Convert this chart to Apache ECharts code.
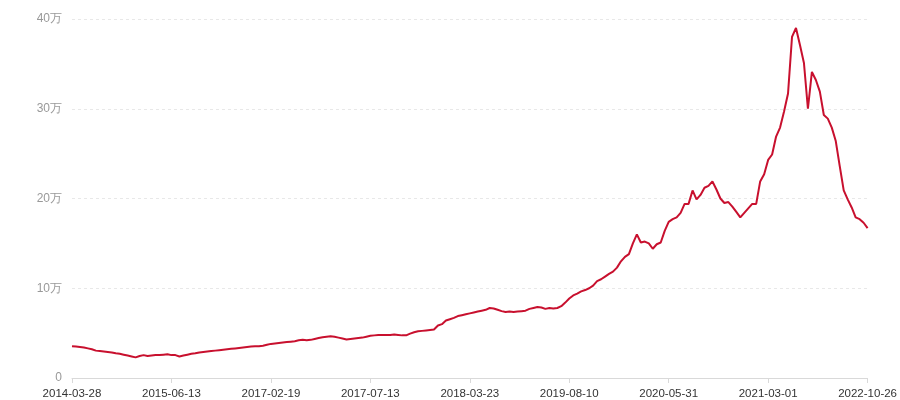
<!DOCTYPE html>
<html>
<head>
<meta charset="utf-8">
<script src="https://cdn.jsdelivr.net/npm/echarts@6/dist/echarts.min.js"></script>
<style>
html,body{margin:0;padding:0;background:#fff;}
#main{width:900px;height:400px;}
</style>
</head>
<body>
<div id="main"></div>
<script>
const dates = [
'2014-03-28','2014-04-15','2014-05-03','2014-05-21','2014-06-08','2014-06-26','2014-07-14','2014-08-01','2014-08-19','2014-09-06',
'2014-09-24','2014-10-12','2014-10-30','2014-11-17','2014-12-05','2014-12-23','2015-01-10','2015-01-28','2015-02-15','2015-03-05',
'2015-03-23','2015-04-10','2015-04-28','2015-05-16','2015-05-31','2015-06-13','2015-07-08','2015-08-02','2015-08-27','2015-09-21',
'2015-10-16','2015-11-10','2015-12-05','2015-12-30','2016-01-24','2016-02-18','2016-03-14','2016-04-08','2016-05-03','2016-05-28',
'2016-06-22','2016-07-17','2016-08-11','2016-09-05','2016-09-30','2016-10-25','2016-11-19','2016-12-14','2017-01-08','2017-01-31',
'2017-02-19','2017-02-25','2017-03-03','2017-03-09','2017-03-15','2017-03-21','2017-03-27','2017-04-02','2017-04-08','2017-04-14',
'2017-04-20','2017-04-26','2017-05-02','2017-05-08','2017-05-14','2017-05-19','2017-05-25','2017-05-31','2017-06-05','2017-06-11',
'2017-06-16','2017-06-22','2017-06-27','2017-07-03','2017-07-08','2017-07-13','2017-07-23','2017-08-02','2017-08-12','2017-08-22',
'2017-09-01','2017-09-11','2017-09-21','2017-10-01','2017-10-11','2017-10-21','2017-10-31','2017-11-10','2017-11-20','2017-11-30',
'2017-12-10','2017-12-20','2017-12-30','2018-01-09','2018-01-19','2018-01-29','2018-02-08','2018-02-18','2018-02-28','2018-03-12',
'2018-03-23','2018-04-12','2018-05-02','2018-05-22','2018-06-11','2018-07-01','2018-07-21','2018-08-10','2018-08-30','2018-09-19',
'2018-10-09','2018-10-29','2018-11-18','2018-12-08','2018-12-28','2019-01-17','2019-02-06','2019-02-26','2019-03-18','2019-04-07',
'2019-04-27','2019-05-17','2019-06-06','2019-06-26','2019-07-18','2019-08-10','2019-08-22','2019-09-03','2019-09-15','2019-09-27',
'2019-10-09','2019-10-21','2019-11-02','2019-11-14','2019-11-26','2019-12-08','2019-12-20','2020-01-01','2020-01-13','2020-01-25',
'2020-02-06','2020-02-18','2020-03-01','2020-03-13','2020-03-25','2020-04-06','2020-04-18','2020-04-30','2020-05-12','2020-05-22',
'2020-05-31','2020-06-11','2020-06-22','2020-07-03','2020-07-14','2020-07-25','2020-08-05','2020-08-16','2020-08-27','2020-09-07',
'2020-09-18','2020-09-29','2020-10-10','2020-10-21','2020-11-01','2020-11-12','2020-11-23','2020-12-04','2020-12-15','2020-12-26',
'2021-01-06','2021-01-17','2021-01-28','2021-02-08','2021-02-19','2021-03-01','2021-03-25','2021-04-18','2021-05-12','2021-06-05',
'2021-06-29','2021-07-23','2021-08-16','2021-09-09','2021-10-03','2021-10-27','2021-11-20','2021-12-14','2022-01-07','2022-01-31',
'2022-02-24','2022-03-20','2022-04-13','2022-05-07','2022-05-31','2022-06-24','2022-07-18','2022-08-11','2022-09-04','2022-09-28',
'2022-10-26'
];

// values in 万
const values = [
3.55,3.5,3.45,3.4,3.3,3.2,3.05,3.0,2.95,2.9,
2.85,2.75,2.7,2.6,2.5,2.4,2.3,2.45,2.55,2.45,
2.5,2.55,2.55,2.6,2.65,2.55,2.55,2.4,2.5,2.6,
2.7,2.75,2.85,2.9,2.95,3.0,3.05,3.1,3.15,3.2,
3.25,3.3,3.35,3.4,3.45,3.5,3.55,3.55,3.6,3.7,
3.8,3.85,3.9,3.95,4.0,4.05,4.1,4.2,4.25,4.2,
4.25,4.35,4.45,4.55,4.6,4.65,4.6,4.5,4.4,4.3,
4.35,4.4,4.45,4.5,4.6,4.7,4.75,4.8,4.8,4.8,
4.8,4.85,4.8,4.75,4.75,4.95,5.1,5.2,5.25,5.3,
5.35,5.4,5.85,6.0,6.4,6.55,6.7,6.9,7.0,7.1,
7.2,7.3,7.4,7.5,7.6,7.8,7.75,7.6,7.45,7.35,
7.4,7.35,7.4,7.45,7.5,7.7,7.8,7.9,7.85,7.7,
7.8,7.75,7.8,8.0,8.4,8.85,9.2,9.4,9.65,9.8,
10.0,10.3,10.8,11.0,11.3,11.6,11.85,12.3,13.0,13.5,
13.8,15.0,16.0,15.1,15.2,15.0,14.4,14.9,15.1,16.4,
17.4,17.7,17.9,18.4,19.4,19.4,20.9,19.9,20.4,21.2,
21.4,21.9,21.0,20.0,19.5,19.6,19.1,18.5,17.9,18.4,
18.9,19.4,19.4,21.9,22.7,24.3,24.9,26.9,27.9,29.7,
31.7,38.0,39.0,37.1,35.1,30.0,34.1,33.2,31.9,29.3,
28.9,27.9,26.4,23.6,20.9,19.9,19.0,17.9,17.7,17.3,
16.7
];

const yTicks = [0, 10, 20, 30, 40];

const chart = echarts.init(document.getElementById('main'), null, {renderer: 'canvas'});
chart.setOption({
  animation: false,
  backgroundColor: '#fff',
  grid: {left: 72, right: 32, top: 19, bottom: 21},
  xAxis: {
    type: 'category',
    data: dates,
    boundaryGap: false,
    axisLine: {lineStyle: {color: '#d9d9d9', width: 1}},
    axisTick: {show: true, interval: 24, alignWithLabel: true, length: 5, lineStyle: {color: '#d9d9d9'}},
    axisLabel: {interval: 24, color: '#333', fontSize: 11.5, fontFamily: 'Liberation Sans, Arial, sans-serif', margin: 10, showMaxLabel: true, showMinLabel: true},
    splitLine: {show: false}
  },
  yAxis: {
    type: 'value',
    min: yTicks[0],
    max: yTicks[yTicks.length - 1],
    interval: 10,
    axisLine: {show: false},
    axisTick: {show: false},
    axisLabel: {
      color: '#999',
      fontSize: 12,
      fontFamily: 'Liberation Sans, Arial, sans-serif',
      margin: 10,
      formatter: function (v) { return v === 0 ? '0' : v + '万'; }
    },
    splitLine: {lineStyle: {color: '#e8e8e8', type: [3, 3], width: 1}}
  },
  series: [{
    type: 'line',
    data: values,
    symbol: 'none',
    smooth: false,
    lineStyle: {color: '#c8102e', width: 2},
    itemStyle: {color: '#c8102e'}
  }]
});
</script>
</body>
</html>
